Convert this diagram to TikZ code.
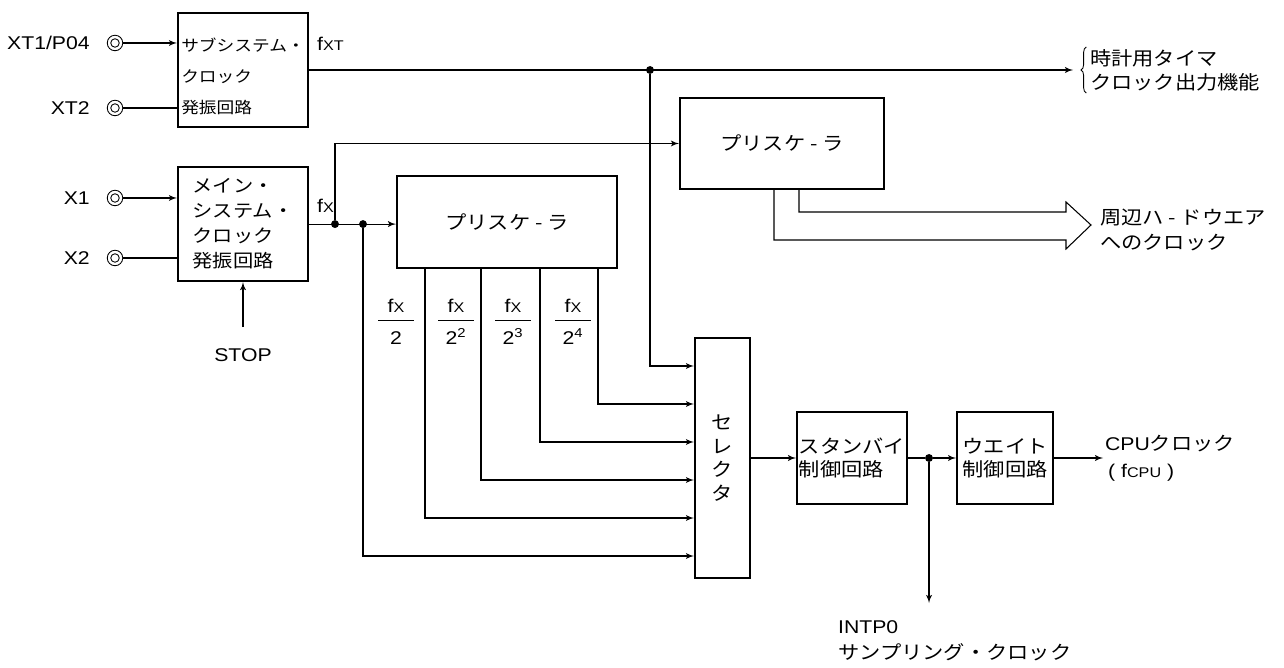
\documentclass[tikz,border=0pt]{standalone}
\usepackage{fontspec}
\setmainfont{Liberation Sans}[FakeStretch=1.15]
\newfontfamily\jp{Noto Sans CJK JP}[FakeStretch=1.12]
\usepackage{array}
\usepackage{tikz}
\usetikzlibrary{arrows, positioning, calc, decorations.pathreplacing}
\newcommand{\fsub}[1]{f{\footnotesize #1}}
\newcommand{\fxfrac}[1]{\begin{tabular}{@{}>{\centering\arraybackslash}p{0.72cm}@{}}\fsub{X}\\\hline\rule{0pt}{13.5pt}#1\end{tabular}}

\begin{document}
\begin{tikzpicture}[x=0.02cm, y=-0.02cm,
        blk/.style={rectangle, draw, line width=1.2pt, inner sep=0pt, align=left, font=\jp\fontsize{10.8}{13.2}\selectfont},
        term/.style={circle, draw, line width=0.5pt, minimum size=0.31cm, inner sep=0pt, path picture={\draw[line width=0.5pt] (path picture bounding box.center) circle (0.085cm);}},
        junc/.style={circle, fill, inner sep=0pt, minimum size=4.5pt},
        lbl/.style={inner sep=1pt, align=left, font=\fontsize{10.5}{14.8}\selectfont},
        jlbl/.style={inner sep=1pt, align=left, font=\jp\fontsize{10.8}{13.8}\selectfont},
        line/.style={draw, line width=0.6pt, -latex'},
        wire/.style={draw, line width=0.6pt}]
        \useasboundingbox (0,0) rectangle (1284,668);

        % Osciladores y terminales
        \node [blk, minimum width=2.6cm, minimum height=2.28cm, font=\jp\fontsize{9}{17.4}\selectfont] (sub) at (243,70) {\rule{0pt}{15pt}サブシステム・\\クロック\\発振回路};
        \node [blk, minimum width=2.6cm, minimum height=2.28cm, font=\jp\fontsize{10.3}{14.2}\selectfont, below=0.76cm of sub] (main) {メイン・\\システム・\\クロック\\発振回路};
        \node [term] (xt1) at (115,43) {};
        \node [term] (xt2) at (115,108) {};
        \node [term] (x1) at (115,198) {};
        \node [term] (x2) at (115,258) {};
        \node [lbl, left=0.3cm of xt1] (lxt1) {XT1/P04};
        \node [lbl, left=0.3cm of xt2] (lxt2) {XT2};
        \node [lbl, left=0.3cm of x1] (lx1) {X1};
        \node [lbl, left=0.3cm of x2] (lx2) {X2};
        \node [lbl, below=1.28cm of main] (stop) {STOP};
        \node [lbl, anchor=south west] (fxt) at ([xshift=0.12cm, yshift=0.34cm]sub.east) {\fsub{XT}};
        \node [lbl, anchor=south west] (fx) at ([xshift=0.12cm, yshift=0.18cm]main.east) {\fsub{X}};

        % Preescaladores, selector y control
        \node [blk, minimum width=4.4cm, minimum height=1.84cm, align=center] (pre1) at (507,222) {プリスケ - ラ};
        \node [blk, minimum width=4.08cm, minimum height=1.82cm, align=center] (pre2) at (782,143.5) {プリスケ - ラ};
        \node [blk, minimum width=1.1cm, minimum height=4.8cm, align=center, font=\jp\fontsize{10.8}{13.5}\selectfont] (sel) at (722.5,458) {セ\\レ\\ク\\タ};
        \node [blk, minimum width=2.2cm, minimum height=1.84cm, right=0.9cm of sel] (stby) {スタンバイ\\制御回路};
        \node [blk, minimum width=1.92cm, minimum height=1.84cm, right=0.96cm of stby] (wait) {ウエイト\\制御回路};

        % Textos de salida
        \node [jlbl, anchor=west] (tmr) at (1088,70) {時計用タイマ\\クロック出力機能};
        \node [jlbl, anchor=west, font=\jp\fontsize{10.8}{14.2}\selectfont] (hw) at (1098,230) {周辺ハ - ドウエア\\へのクロック};
        \node [lbl, anchor=west, font=\fontsize{10.5}{15.3}\selectfont] (cpu) at (1103,458) {CPU{\jp\fontsize{10.8}{13.8}\selectfont クロック}\\\,( \fsub{CPU} )};
        \node [lbl, anchor=north west] (intp) at (836,619) {INTP0\\{\jp\fontsize{10.8}{13.8}\selectfont サンプリング・クロック}};

        % Fracciones del preescalador
        \foreach \xx/\dd [count=\i] in {396/2, 456/2\textsuperscript{2}, 513/2\textsuperscript{3}, 573/2\textsuperscript{4}}
            \node [lbl, inner sep=0pt] (fr\i) at (\xx,323) {\fxfrac{\dd}};

        % Puntos de unión
        \node [junc] (jt) at (650,0 |- sub.east) {};
        \node [junc] (j1) at (335,0 |- main.east) {};
        \node [junc] (j2) at (363,0 |- main.east) {};
        \node [junc] (js) at (929,0 |- stby.east) {};

        % Entradas de los osciladores
        \path [line] (xt1) -- (xt1 -| sub.west);
        \path [wire] (xt2) -- (xt2 -| sub.west);
        \path [line] (x1) -- (x1 -| main.west);
        \path [wire] (x2) -- (x2 -| main.west);
        \path [line] ([yshift=0.38cm]stop.north) -- (main.south);

        % Reloj de subsistema
        \path [line] (sub) -- ([xshift=-0.3cm]tmr.west);
        \draw [decorate, decoration={brace, amplitude=3pt}, line width=0.5pt] ([xshift=-1pt]tmr.south west) -- ([xshift=-1pt]tmr.north west);
        \path [line] (jt) |- (sel.west |- 0,366);

        % Reloj principal
        \path [line] (main) -- (main -| pre1.west);
        \path [line] (j1) |- (pre2);
        \path [line] (j2) |- (sel.west |- 0,556);
        \foreach \xx/\yy in {598/404, 540/442, 481/480, 425/518}
            \path [line] (pre1.south -| \xx,0) |- (sel.west |- 0,\yy);

        % Salida ancha hacia periféricos
        \path [wire] (pre2.south -| 799,0) |- (1066,212) -- (1066,202) -- (1091,225) -- (1066,249) -- (1066,240) -| (pre2.south -| 774,0);

        % Selector, espera y CPU
        \path [line] (sel) -- (stby);
        \path [wire] (stby) -- (js);
        \path [line] (js) -- (wait);
        \path [line] (js) -- (js |- 0,603);
        \path [line] (wait) -- (cpu);
    \end{tikzpicture}
\end{document}
